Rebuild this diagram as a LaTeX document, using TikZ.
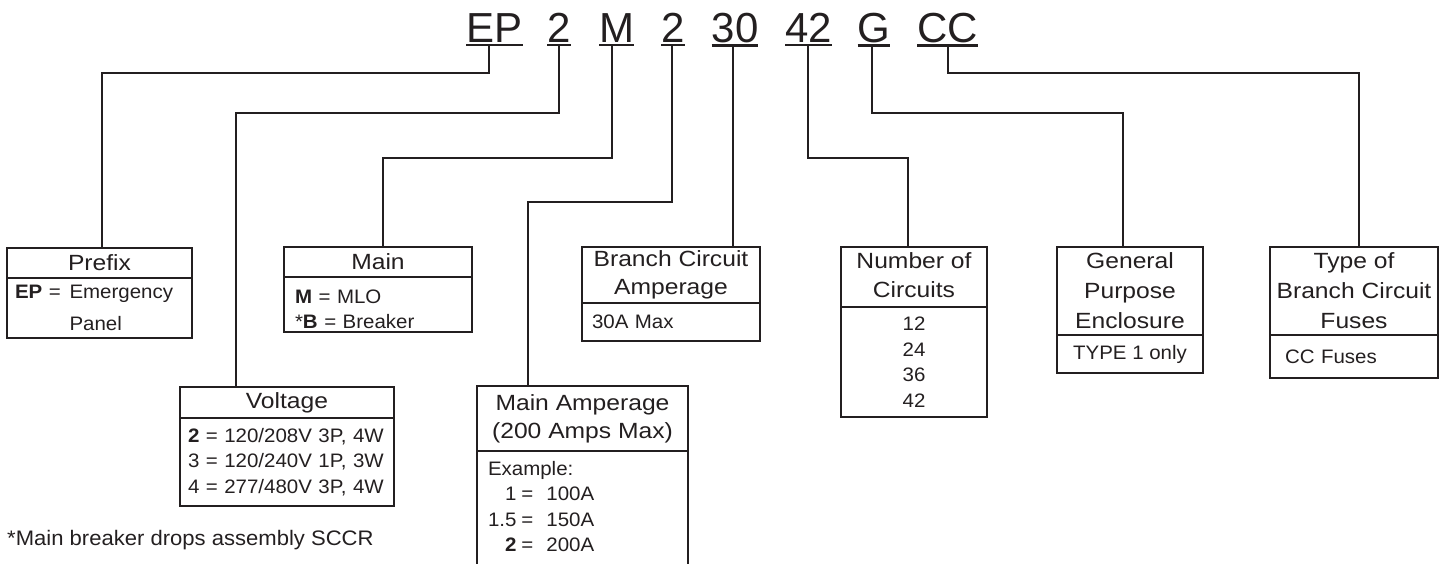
\documentclass[tikz,border=0pt]{standalone}
\usepackage{fontspec}
\usepackage{xcolor}
\usetikzlibrary{positioning}
\setmainfont{Liberation Sans}
\newfontfamily\hdfamily[FakeStretch=1.12]{Liberation Sans}
\newfontfamily\bdfamily[FakeStretch=1.05]{Liberation Sans}
\definecolor{ink}{RGB}{35,31,32}

\begin{document}
\begin{tikzpicture}[x=1pt,y=-1pt,
  hd/.style={draw=ink,line width=2.8pt,outer sep=0pt,inner xsep=2pt,inner ysep=0pt,align=center,text=ink,font=\hdfamily\fontsize{22}{28}\selectfont},
  bd/.style={draw=ink,line width=2.8pt,outer sep=0pt,inner ysep=0pt,text=ink,font=\bdfamily\fontsize{19.5}{25.5}\selectfont},
  code/.style={anchor=base,inner xsep=0pt,inner ysep=3pt,outer sep=0pt,text=ink,font=\fontsize{42}{50}\selectfont},
  lead/.style={draw=ink,line width=2.8pt},
  uline/.style={draw=ink,line width=2.2pt}]
\useasboundingbox (0,0) rectangle (1450,563);

\foreach \n/\x/\t in {ep/494.5/EP,volt/559/2,main/616.5/M,mamp/673/2,branch/735/30,ncirc/808.5/42,gen/874/G,fuse/947.5/CC}{
  \node[code] (\n) at (\x,42) {\t};
  \draw[uline] (\n.south west) -- (\n.south east);
}

\node[hd,minimum width=185,minimum height=30] (prefixhd) at (99.5,263) {Prefix};
\node[bd,below=0pt of prefixhd,minimum width=185,minimum height=60,inner xsep=8pt,text width=169,align=left] (prefixbd)
  {\textbf{EP} =\hspace{0.45em}Emergency\\[6pt]\phantom{\textbf{EP} =\hspace{0.45em}}Panel};

\node[hd,minimum width=188,minimum height=30] (mainhd) at (378,262) {Main};
\node[bd,below=0pt of mainhd,minimum width=188,minimum height=55,inner xsep=11pt,text width=166,align=left] (mainbd)
  {\rule{0pt}{23pt}\textbf{M} = MLO\\{*}\textbf{B} = Breaker};

\node[hd,minimum width=214,minimum height=31] (volthd) at (287,402.5) {Voltage};
\node[bd,below=0pt of volthd,minimum width=214,minimum height=88,inner xsep=8pt,text width=198,align=left] (voltbd)
  {\textbf{2} = 120/208V 3P, 4W\\3 = 120/240V 1P, 3W\\4 = 277/480V 3P, 4W};

\node[hd,minimum width=178,minimum height=56] (branchhd) at (671,275) {Branch Circuit\\Amperage};
\node[bd,below=0pt of branchhd,minimum width=178,minimum height=38,inner xsep=10pt,text width=158,align=left] (branchbd) {30A Max};

\node[hd,minimum width=211,minimum height=65] (mamphd) at (582.5,418.5) {Main Amperage\\(200 Amps Max)};
\node[bd,below=0pt of mamphd,minimum width=211,minimum height=115,inner xsep=11pt,text width=189,align=left] (mampbd)
  {\begin{tabular}{@{}r@{\hspace{5pt}=\hspace{13pt}}l@{}}
   \multicolumn{2}{@{}l}{Example:}\\
   1 & 100A\\
   1.5 & 150A\\
   \textbf{2} & 200A
   \end{tabular}};

\node[hd,minimum width=146,minimum height=60] (ncirchd) at (914,277) {Number of\\[1pt]Circuits\rule[-4pt]{0pt}{4pt}};
\node[bd,below=0pt of ncirchd,minimum width=146,minimum height=110,align=center] (ncircbd) {12\\24\\36\\42};

\node[hd,minimum width=146,minimum height=88] (genhd) at (1130,291) {General\\[2pt]Purpose\\[2pt]Enclosure};
\node[bd,below=0pt of genhd,minimum width=146,minimum height=38,align=center] (genbd) {TYPE 1 only};

\node[hd,minimum width=168,minimum height=88] (fusehd) at (1354,291) {Type of\\[2pt]Branch Circuit\\[2pt]Fuses};
\node[bd,below=0pt of fusehd,minimum width=168,minimum height=43,inner xsep=15pt,text width=138,align=left] (fusebd) {CC Fuses};

\foreach \c/\xa/\ye/\xb/\b in {ep/489/73/102/prefixhd,volt/559/113/236/volthd,main/612/158/383/mainhd,mamp/672/202/528/mamphd,branch/733/120/733/branchhd,ncirc/808/158/908/ncirchd,gen/872/113/1123/genhd,fuse/948/73/1359/fusehd}{
  \draw[lead] (\xa,0 |- \c.south) -- (\xa,\ye) -- (\xb,\ye) -- (\xb,0 |- \b.north);
}

\node[anchor=base west,inner sep=0pt,text=ink,font=\bdfamily\fontsize{21}{24}\selectfont] (note) at (7,545) {*Main breaker drops assembly SCCR};
\end{tikzpicture}
\end{document}
